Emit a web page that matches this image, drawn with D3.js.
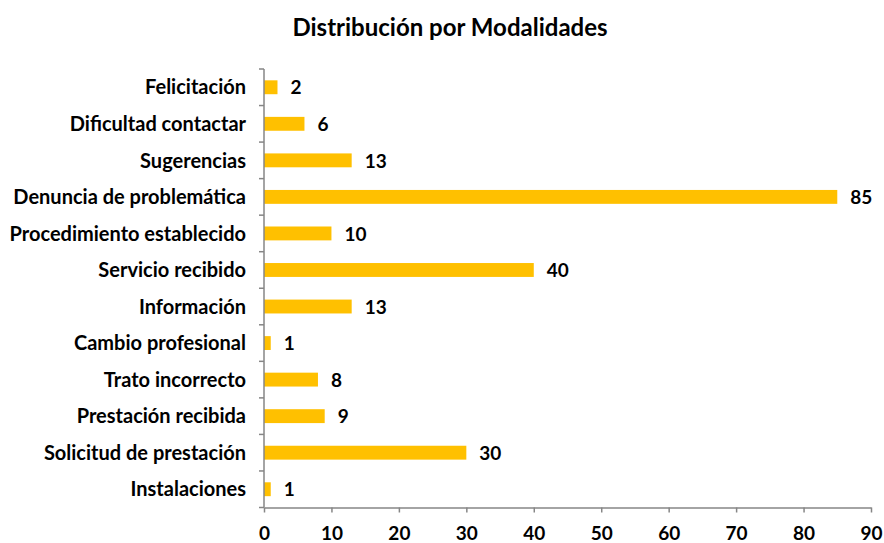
<!DOCTYPE html>
<html>
<head>
<meta charset="utf-8">
<script src="https://cdn.jsdelivr.net/npm/d3@7"></script>
<style>
  body { margin: 0; background: #fff; }
  svg text { font-family: Lato, "Open Sans", sans-serif; font-weight: bold; fill: #000; }
  .axis path, .axis line { stroke: #868686; stroke-width: 1.5; }
</style>
</head>
<body>
<div id="wrapper"></div>
<script>
const categories = [
    'Felicitación', 'Dificultad contactar', 'Sugerencias', 'Denuncia de problemática',
    'Procedimiento establecido', 'Servicio recibido', 'Información', 'Cambio profesional',
    'Trato incorrecto', 'Prestación recibida', 'Solicitud de prestación', 'Instalaciones'
];
const values = [2, 6, 13, 85, 10, 40, 13, 1, 8, 9, 30, 1];
const xTicks = [0, 10, 20, 30, 40, 50, 60, 70, 80, 90];

const dataset = categories.map((c, i) => ({ category: c, value: values[i] }));

let dimensions = {
    width: 884,
    height: 543,
    margin: { top: 69, right: 13, bottom: 35.5, left: 264 }
};
dimensions.boundWidth = dimensions.width - dimensions.margin.left - dimensions.margin.right;
dimensions.boundHeight = dimensions.height - dimensions.margin.top - dimensions.margin.bottom;

const wrapper = d3.select('#wrapper')
    .append('svg')
    .attr('width', dimensions.width)
    .attr('height', dimensions.height);

wrapper.append('text')
    .attr('x', 450)
    .attr('y', 36)
    .attr('text-anchor', 'middle')
    .style('font-size', '24px')
    .text('Distribución por Modalidades');

const bounds = wrapper.append('g')
    .attr('transform', `translate(${dimensions.margin.left},${dimensions.margin.top})`);

const xScale = d3.scaleLinear()
    .domain([0, 90])
    .range([0, dimensions.boundWidth]);

const yScale = d3.scaleBand()
    .domain(categories)
    .range([0, dimensions.boundHeight])
    .paddingInner(0.62)
    .paddingOuter(0.31);

bounds.selectAll('rect.bar')
    .data(dataset)
    .join('rect')
    .attr('class', 'bar')
    .attr('x', 0)
    .attr('y', d => yScale(d.category))
    .attr('width', d => xScale(d.value))
    .attr('height', yScale.bandwidth())
    .attr('fill', '#FFC000');

bounds.selectAll('text.value')
    .data(dataset)
    .join('text')
    .attr('class', 'value')
    .attr('x', d => xScale(d.value) + 13)
    .attr('y', d => yScale(d.category) + yScale.bandwidth() / 2)
    .attr('dy', '0.38em')
    .style('font-size', '19px')
    .text(d => d.value);

// x axis
const xAxis = bounds.append('g')
    .attr('class', 'axis')
    .attr('transform', `translate(0,${dimensions.boundHeight})`)
    .call(d3.axisBottom(xScale).tickValues(xTicks).tickSize(5).tickSizeOuter(0));
xAxis.selectAll('text')
    .attr('y', 19)
    .attr('dy', '0.71em')
    .style('font-size', '19px');

// y axis with ticks at band boundaries
const yAxis = bounds.append('g').attr('class', 'axis');
yAxis.append('path')
    .attr('d', `M0,0V${dimensions.boundHeight}`);
const boundaries = d3.range(categories.length + 1).map(i => i * dimensions.boundHeight / categories.length);
yAxis.selectAll('line')
    .data(boundaries)
    .join('line')
    .attr('x1', -5).attr('x2', 0)
    .attr('y1', d => d).attr('y2', d => d);
yAxis.selectAll('text')
    .data(dataset)
    .join('text')
    .attr('x', -18)
    .attr('y', d => yScale(d.category) + yScale.bandwidth() / 2)
    .attr('dy', '0.36em')
    .attr('text-anchor', 'end')
    .style('font-size', '20px')
    .style('stroke', 'none')
    .text(d => d.category);
</script>
</body>
</html>
